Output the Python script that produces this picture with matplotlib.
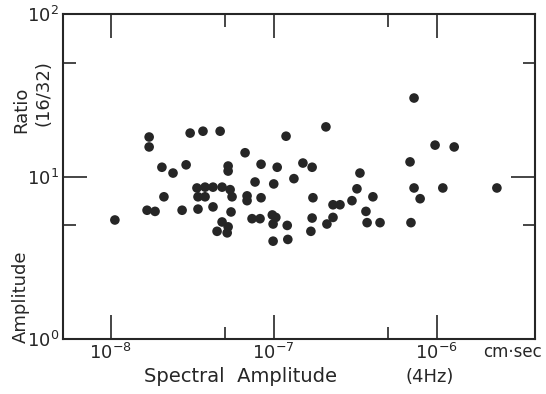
import matplotlib
matplotlib.use('Agg')
import matplotlib.pyplot as plt

# spectral amplitude at 4 Hz (cm-sec) and amplitude ratio (16/32)
spectral_amp = [
    1.06e-8, 1.72e-8, 1.72e-8, 3.07e-8, 3.68e-8, 4.69e-8, 1.19e-7, 6.67e-8,
    2.06e-8, 2.41e-8, 2.90e-8, 5.25e-8, 5.25e-8, 8.36e-8, 1.05e-7, 1.51e-7,
    1.72e-7, 7.68e-8, 1.00e-7, 1.33e-7, 3.38e-8, 3.79e-8, 4.24e-8, 4.82e-8,
    5.40e-8, 3.43e-8, 3.79e-8, 5.55e-8, 2.12e-8, 1.67e-8, 1.87e-8, 2.74e-8,
    3.43e-8, 4.24e-8, 5.47e-8, 6.86e-8, 6.86e-8, 8.36e-8, 7.36e-8, 8.24e-8,
    9.80e-8, 1.03e-7, 9.91e-8, 1.21e-7, 4.82e-8, 4.49e-8, 5.25e-8, 5.18e-8,
    9.91e-8, 1.22e-7, 2.09e-7, 3.38e-7, 3.24e-7, 1.74e-7, 4.06e-7, 3.02e-7,
    2.31e-7, 2.55e-7, 3.68e-7, 1.72e-7, 2.31e-7, 2.12e-7, 3.74e-7, 4.49e-7,
    1.69e-7, 7.26e-7, 9.77e-7, 1.28e-6, 6.86e-7, 7.26e-7, 1.09e-6, 2.34e-6,
    7.91e-7, 6.95e-7,
]
amp_ratio = [
    5.4, 17.5, 15.2, 18.5, 19.0, 19.0, 17.7, 14.0,
    11.4, 10.5, 11.8, 11.6, 10.8, 11.9, 11.4, 12.1,
    11.4, 9.25, 9.0, 9.7, 8.5, 8.6, 8.6, 8.6,
    8.3, 7.5, 7.5, 7.5, 7.5, 6.2, 6.1, 6.2,
    6.3, 6.5, 6.05, 7.6, 7.1, 7.4, 5.5, 5.5,
    5.8, 5.6, 5.1, 5.0, 5.25, 4.6, 4.9, 4.5,
    4.0, 4.1, 20.2, 10.5, 8.4, 7.4, 7.5, 7.1,
    6.7, 6.7, 6.1, 5.55, 5.6, 5.1, 5.2, 5.2,
    4.6, 30.4, 15.6, 15.2, 12.3, 8.5, 8.5, 8.5,
    7.3, 5.2,
]

x_ticks = [1e-8, 1e-7, 1e-6]
x_labels = ['$\\mathregular{10^{-8}}$', '$\\mathregular{10^{-7}}$', '$\\mathregular{10^{-6}}$']
x_minor = [5e-8, 5e-7]
y_ticks = [1, 10, 100]
y_labels = ['$\\mathregular{10^{0}}$', '$\\mathregular{10^{1}}$', '$\\mathregular{10^{2}}$']
y_minor = [5, 50]

ink = '#262626'
plt.rcParams['font.family'] = 'DejaVu Sans'

fig = plt.figure(figsize=(5.46, 3.94), dpi=100)
ax = fig.add_axes([63/546, 1-339/394, (535-63)/546, (339-14)/394])

ax.scatter(spectral_amp, amp_ratio, s=48, c=ink, edgecolors='none', zorder=3)

ax.set_xscale('log')
ax.set_yscale('log')
ax.set_xlim(10**-8.293, 10**-5.397)
ax.set_ylim(1, 100)

ax.set_xticks(x_ticks)
ax.set_xticklabels(x_labels, fontsize=13, color=ink)
ax.set_xticks(x_minor, minor=True)
ax.set_xticklabels([], minor=True)
ax.set_yticks(y_ticks)
ax.set_yticklabels(y_labels, fontsize=13, color=ink)
ax.set_yticks(y_minor, minor=True)
ax.set_yticklabels([], minor=True)

ax.tick_params(which='both', direction='in', top=True, right=True, width=1.2, color=ink)
ax.tick_params(which='major', length=17, pad=3)
ax.tick_params(which='minor', length=9)
for sp in ax.spines.values():
    sp.set_linewidth(1.5)
    sp.set_color(ink)

# axis titles drawn as free text like the original lettering
fig.text(241/546, 1-377/394, 'Spectral  Amplitude', fontsize=14, color=ink, ha='center', va='center')
fig.text(430/546, 1-377/394, '(4Hz)', fontsize=13, color=ink, ha='center', va='center')
fig.text(513/546, 1-352/394, 'cm\u00b7sec', fontsize=12, color=ink, ha='center', va='center')
fig.text(21/546, 1-297/394, 'Amplitude', fontsize=13, color=ink, ha='center', va='center', rotation=90)
fig.text(21/546, 1-110/394, 'Ratio', fontsize=13, color=ink, ha='center', va='center', rotation=90)
fig.text(43/546, 1-93/394, '(16/32)', fontsize=13, color=ink, ha='center', va='center', rotation=90)

fig.savefig('out.png', dpi=100)
